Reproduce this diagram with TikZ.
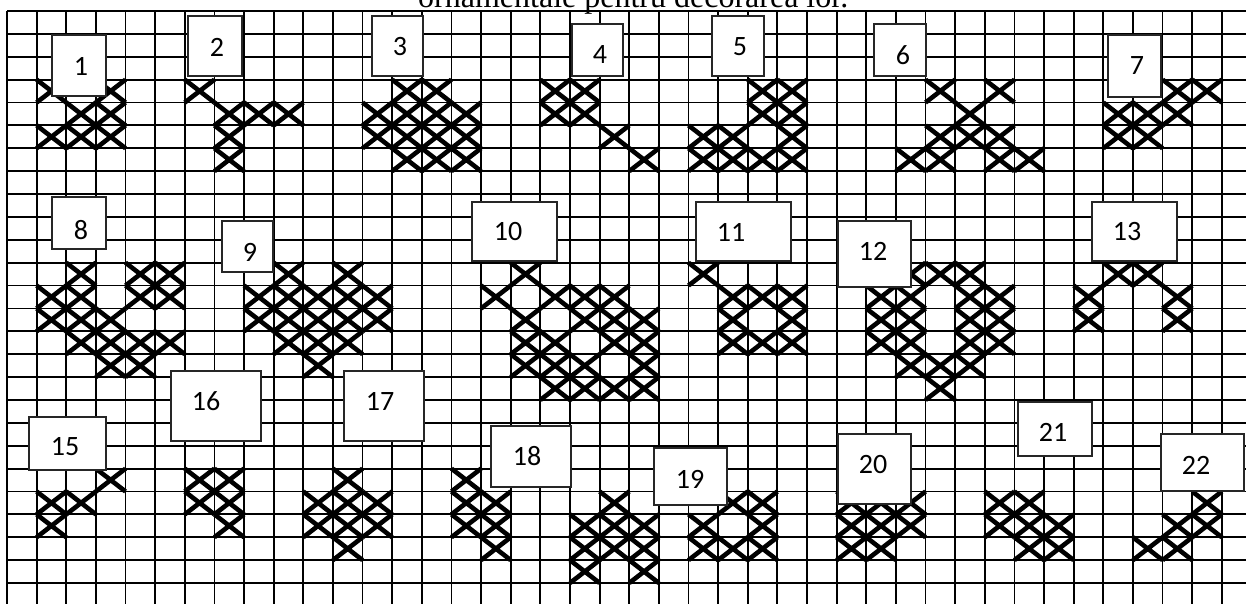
\documentclass[tikz,border=0pt]{standalone}
\usepackage{fontspec}
\setmainfont{Liberation Serif}
\newfontfamily\numfont{Carlito}

\tikzset{
  gridline/.style={line width=1.8pt},
  stitch/.style={line width=4.6pt},
  numbox/.style={draw=black!85, line width=1.4pt, fill=white, inner sep=0pt},
  numtext/.style={font=\numfont\fontsize{28}{28}\selectfont, inner sep=0pt},
}

\begin{document}
\begin{tikzpicture}[x=1pt,y=-1pt]
\useasboundingbox (0,0) rectangle (1246,604);
\clip (0,0) rectangle (1246,604);
\fill[white] (0,0) rectangle (1246,604);

% Title line, cut by the top edge
\node[anchor=base west, inner sep=0pt, font=\fontsize{32}{32}\selectfont] (title) at (418,8) {ornamentale pentru decorarea lor.};

\begin{scope}[shift={(7,11)}, x=29.63pt, y=-22.88pt]
  % Grid
  \foreach \r in {0,...,25}
    \draw[gridline] (0,\r) -- (42,\r);
  \foreach \c in {0,...,41}
    \draw[gridline] (\c,0) -- (\c,26);

  % Stitches, column/row of each cell
  \foreach \c/\r in {1/3,3/3,2/4,3/4,1/5,2/5,3/5,
      6/3,7/4,8/4,9/4,7/5,7/6,
      13/3,14/3,12/4,13/4,14/4,15/4,12/5,13/5,14/5,15/5,13/6,14/6,15/6,
      18/3,19/3,18/4,19/4,20/5,21/6,
      25/3,26/3,25/4,26/4,23/5,24/5,26/5,23/6,24/6,25/6,26/6,
      31/3,33/3,32/4,31/5,32/5,33/5,30/6,31/6,33/6,34/6,
      39/3,40/3,37/4,38/4,39/4,37/5,38/5,
      2/11,4/11,5/11,1/12,2/12,4/12,5/12,1/13,2/13,3/13,2/14,3/14,4/14,5/14,3/15,4/15,
      9/11,11/11,8/12,9/12,10/12,11/12,12/12,8/13,9/13,10/13,11/13,12/13,9/14,10/14,11/14,10/15,
      17/11,16/12,18/12,19/12,20/12,17/13,19/13,20/13,21/13,17/14,18/14,20/14,21/14,
      17/15,18/15,19/15,21/15,18/16,19/16,20/16,21/16,
      23/11,24/12,25/12,26/12,24/13,26/13,24/14,25/14,26/14,
      30/11,31/11,32/11,29/12,30/12,32/12,33/12,29/13,30/13,32/13,33/13,
      29/14,30/14,32/14,33/14,30/15,31/15,32/15,31/16,
      37/11,38/11,36/12,39/12,36/13,39/13,
      3/20,1/21,2/21,1/22,
      6/20,7/20,6/21,7/21,7/22,
      11/20,10/21,11/21,12/21,10/22,11/22,12/22,11/23,
      15/20,15/21,16/21,15/22,16/22,16/23,
      20/21,19/22,20/22,21/22,19/23,20/23,21/23,19/24,21/24,
      24/21,25/21,23/22,25/22,23/23,24/23,25/23,
      28/21,29/21,30/21,28/22,29/22,30/22,28/23,29/23,
      33/21,34/21,33/22,34/22,35/22,34/23,35/23,
      40/21,39/22,40/22,38/23,39/23}
    \draw[stitch] (\c,\r) -- ++(1,1) ({\c},{\r+1}) -- ++(1,-1);
\end{scope}

% Number boxes: centre, size, then place of the number
\foreach \n/\bx/\by/\bw/\bh/\tx/\ty in {
    1/79/65.5/54/61/81/66, 2/215/46/54/60/217/47, 3/397.5/46/51/60/400/47,
    4/597.5/50/51/52/600/55, 5/738/46/52/60/740/47, 6/900/50/52/52/903/55,
    7/1134.5/66/53/62/1137/66, 8/79/223/54/52/81/230, 9/247.5/246.5/51/51/250/252,
    10/514.5/231.5/85/59/508/232, 11/743.5/231.5/95/59/731/232,
    12/874.5/254/73/66/873/251, 13/1134.5/231.5/85/59/1127/232,
    15/67.5/443.5/77/53/65/447, 16/216/406/90/70/206/401, 17/384/406/80/70/380/401,
    18/531/456.5/80/61/527/456, 19/690.5/476.5/73/57/690/479,
    20/874.5/469/73/70/873/465, 21/1055/429/74/54/1053/432,
    22/1202.5/462.5/83/57/1196/465} {
  \node[numbox, minimum width=\bw pt, minimum height=\bh pt] (box\n) at (\bx,\by) {};
  \node[numtext] (num\n) at (\tx,\ty) {\n};
}

\end{tikzpicture}
\end{document}
